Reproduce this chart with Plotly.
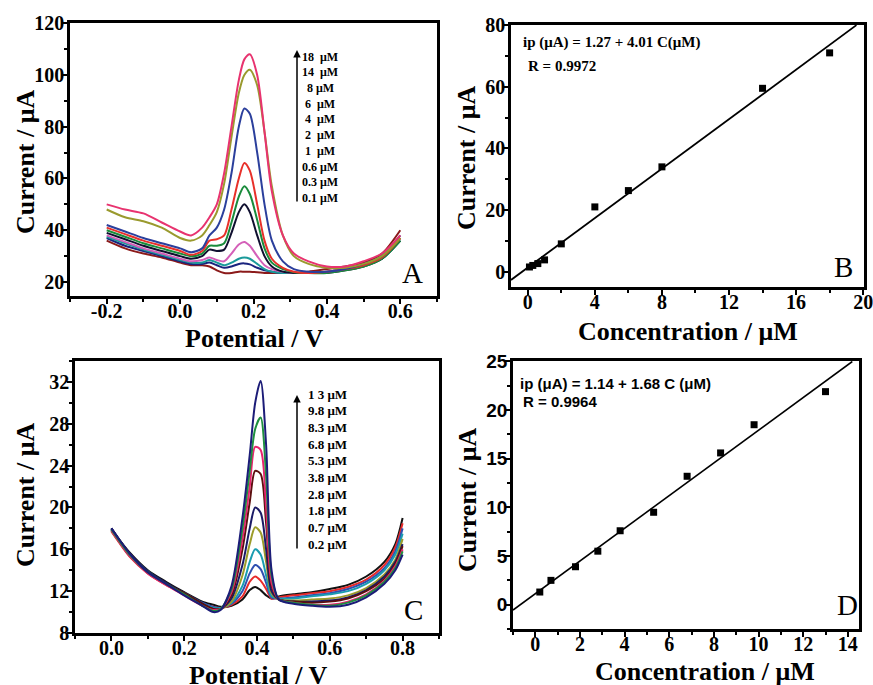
import plotly.graph_objects as go

W, H = 873, 685

# ---------------- Panel A data ----------------
xA = [-0.2, -0.15, -0.1, -0.05, 0.0, 0.03, 0.06, 0.08, 0.1, 0.12, 0.14, 0.16, 0.175,
      0.19, 0.21, 0.23, 0.25, 0.28, 0.31, 0.35, 0.4, 0.45, 0.5, 0.55, 0.6]
concA = ["0.1", "0.3", "0.6", "1", "2", "4", "6", "8", "14", "18"]
colorsA = ["#8b1a1a", "#1a237e", "#1a9a9a", "#d45fb8", "#101030",
           "#1a8c3c", "#e8302a", "#2b3f9c", "#9a9a2e", "#e8336f"]
yA = [
    [36, 33, 31, 29.5, 27.5, 26.5, 26.5, 26, 24.5, 23.5, 23.5, 24, 24, 24, 23.8, 23.5, 23.5, 23.5, 23.5, 24, 25, 26, 27.5, 31, 40],
    [37, 34, 32, 30, 28, 27, 27, 27.5, 26.5, 25.5, 26, 27, 27.2, 26.8, 25.5, 24.5, 24, 23.5, 23.5, 23.5, 24, 25, 26.5, 29, 37],
    [37.5, 35, 32.5, 30.5, 28.5, 27.5, 27.5, 28.5, 27.5, 26.5, 27.5, 29, 29.5, 29, 27, 25, 24, 23.5, 23.5, 23.5, 24, 25, 26.5, 29, 36],
    [38, 35.5, 33, 31, 29, 28, 28.5, 29.5, 28.5, 28, 31, 34.5, 35.5, 34, 30, 26.5, 25, 24, 23.5, 23.5, 24, 25, 26.5, 29.5, 37],
    [39, 36.5, 34, 32, 30, 29, 30, 32.5, 32, 32.5, 39, 47, 50, 47, 38, 30, 26, 24, 23.5, 23.5, 23.5, 24.5, 26, 29, 36],
    [40, 37.5, 35, 33, 31, 30, 31, 34, 34, 35, 43, 53, 57, 54, 44, 33, 27.5, 25, 23.8, 23.5, 23.5, 24.5, 26, 29, 36],
    [41, 38.5, 36, 34, 32, 30.5, 32, 36, 36.5, 38, 48, 60, 66, 63, 50, 36, 29, 25.5, 24, 23.5, 24, 25, 26.5, 29.5, 37],
    [42, 39.5, 37, 35, 33, 31.5, 33, 38, 41, 48, 62, 80, 87, 85, 70, 50, 36, 28, 25, 24, 24, 25, 27, 30, 38],
    [48, 45, 43.5, 41, 37, 36, 38, 42, 47, 58, 76, 93, 100, 102, 96, 78, 57, 38, 30, 27, 25.5, 25.5, 27, 30, 37],
    [50, 48, 46.5, 43, 39.5, 38, 41, 45, 50, 62, 80, 98, 106, 108, 100, 78, 55, 38, 31, 28, 26, 26, 28, 31, 38],
]
ticksA_x = [-0.2, 0.0, 0.2, 0.4, 0.6]
ticktextA_x = ["-0.2", "0.0", "0.2", "0.4", "0.6"]

# ---------------- Panel B data ----------------
concB = [0.1, 0.3, 0.6, 1, 2, 4, 6, 8, 14, 18]
ipB = [1.5, 2.0, 2.6, 3.8, 9.0, 21.0, 26.3, 34.0, 59.5, 71.0]
fitB_x = [-1.0, 19.6]
fitB_y = [-2.7, 80.0]

# ---------------- Panel C data ----------------
xC = [0.0, 0.02, 0.05, 0.1, 0.15, 0.2, 0.25, 0.28, 0.3, 0.33, 0.36, 0.38, 0.395,
      0.41, 0.425, 0.44, 0.46, 0.5, 0.55, 0.6, 0.65, 0.7, 0.75, 0.78, 0.8]
concC = ["0.2", "0.7", "1.8", "2.8", "3.8", "5.3", "6.8", "8.3", "9.8", "13"]
colorsC = ["#111111", "#e82a2a", "#2f4fb0", "#1a9cb0", "#9c9c2a",
           "#1a1a66", "#5c0f0f", "#e8246e", "#1f8f3f", "#1c1c78"]
yC = [
    [18.0, 17.0, 15.7, 14.0, 12.9, 11.9, 11.0, 10.7, 10.5, 10.6, 11.2, 12.1, 12.4, 12.1, 11.6, 11.3, 11.5, 11.7, 11.9, 12.2, 12.6, 13.4, 14.8, 16.5, 19.0],
    [17.7, 16.7, 15.3, 13.7, 12.6, 11.7, 10.8, 10.5, 10.4, 10.7, 11.5, 12.9, 13.4, 13.0, 12.2, 11.3, 11.4, 11.6, 11.8, 12.0, 12.4, 13.1, 14.5, 16.2, 18.5],
    [17.8, 16.8, 15.4, 13.8, 12.7, 11.8, 10.9, 10.5, 10.4, 10.8, 12.0, 13.7, 14.5, 14.1, 12.8, 11.4, 11.3, 11.4, 11.6, 11.8, 12.2, 12.9, 14.2, 15.8, 18.0],
    [17.9, 16.9, 15.5, 13.9, 12.7, 11.8, 10.8, 10.4, 10.4, 10.9, 12.5, 14.8, 16.0, 15.5, 13.5, 11.5, 11.3, 11.3, 11.5, 11.7, 12.0, 12.7, 14.0, 15.5, 17.5],
    [17.8, 16.8, 15.5, 13.8, 12.7, 11.7, 10.7, 10.3, 10.3, 11.0, 13.5, 16.5, 18.1, 17.6, 14.8, 11.8, 11.2, 11.1, 11.2, 11.3, 11.6, 12.3, 13.6, 15.0, 17.0],
    [18.0, 17.0, 15.6, 13.9, 12.8, 11.8, 10.8, 10.3, 10.3, 11.3, 14.5, 18.0, 20.0, 19.5, 16.0, 12.0, 11.2, 11.0, 11.0, 11.1, 11.4, 12.1, 13.4, 14.8, 16.5],
    [17.9, 16.9, 15.5, 13.8, 12.7, 11.8, 10.8, 10.3, 10.3, 11.6, 16.0, 20.5, 23.5, 23.2, 18.5, 12.5, 11.2, 11.0, 10.9, 11.0, 11.3, 12.0, 13.2, 14.6, 16.3],
    [17.8, 16.8, 15.4, 13.7, 12.6, 11.6, 10.6, 10.2, 10.3, 11.9, 17.0, 22.0, 25.8, 25.5, 20.0, 12.8, 11.2, 10.9, 10.7, 10.7, 11.0, 11.7, 13.0, 14.4, 16.0],
    [17.9, 16.9, 15.5, 13.8, 12.7, 11.7, 10.6, 10.1, 10.3, 12.2, 18.0, 23.5, 27.5, 28.6, 23.0, 13.5, 11.2, 10.9, 10.7, 10.6, 10.9, 11.6, 12.9, 14.2, 15.8],
    [18.0, 17.0, 15.6, 13.8, 12.7, 11.6, 10.6, 10.0, 10.2, 12.5, 19.0, 25.0, 30.0, 32.1, 26.0, 14.0, 11.2, 10.8, 10.6, 10.5, 10.7, 11.4, 12.7, 14.0, 15.5],
]

# ---------------- Panel D data ----------------
concD = [0.2, 0.7, 1.8, 2.8, 3.8, 5.3, 6.8, 8.3, 9.8, 13.0]
ipD = [1.3, 2.5, 3.9, 5.5, 7.6, 9.5, 13.2, 15.6, 18.5, 21.9]
fitD_x = [-1.0, 14.2]
fitD_y = [-0.55, 25.0]

labelsA = ["18  μM", "14  μM", "8 μM", "6  μM", "4  μM", "2  μM", "1  μM", "0.6 μM", "0.3 μM", "0.1 μM"]
labelsC = ["1 3 μM", "9.8 μM", "8.3 μM", "6.8 μM", "5.3 μM", "3.8 μM", "2.8 μM", "1.8 μM", "0.7 μM", "0.2 μM"]

SERIF = "Liberation Serif"
SANS = "Liberation Sans"


def px2x(p):
    return p / W


def px2y(p):
    return 1 - p / H


fig = go.Figure()

for i in range(len(concA)):
    fig.add_trace(go.Scatter(x=xA, y=yA[i], mode="lines", xaxis="x", yaxis="y",
                             line=dict(color=colorsA[i], width=2, shape="spline", smoothing=0.8),
                             showlegend=False, name=concA[i] + " μM"))

fig.add_trace(go.Scatter(x=fitB_x, y=fitB_y, mode="lines", xaxis="x2", yaxis="y2",
                         line=dict(color="black", width=1.8), showlegend=False))
fig.add_trace(go.Scatter(x=concB, y=ipB, mode="markers", xaxis="x2", yaxis="y2",
                         marker=dict(symbol="square", size=7, color="black"), showlegend=False))

for i in range(len(concC)):
    fig.add_trace(go.Scatter(x=xC, y=yC[i], mode="lines", xaxis="x3", yaxis="y3",
                             line=dict(color=colorsC[i], width=2, shape="spline", smoothing=0.8),
                             showlegend=False, name=concC[i] + " μM"))

fig.add_trace(go.Scatter(x=fitD_x, y=fitD_y, mode="lines", xaxis="x4", yaxis="y4",
                         line=dict(color="black", width=1.6), showlegend=False))
fig.add_trace(go.Scatter(x=concD, y=ipD, mode="markers", xaxis="x4", yaxis="y4",
                         marker=dict(symbol="square", size=7, color="black"), showlegend=False))

tickf = dict(family=SERIF, size=20, color="black", weight="bold")


def ax(domain, rng, dtick, tick0, mdtick, anchor, tfont=tickf, fmt=None, tvals=None, ttext=None,
       xaxis=True, overflow=None):
    d = dict(domain=domain, range=rng, dtick=dtick, tick0=tick0, showgrid=False, zeroline=False,
             showline=True, linecolor="black", linewidth=2.5, mirror=True, automargin=False,
             ticks="outside", ticklen=5, tickwidth=2, tickcolor="black", tickfont=tfont,
             ticklabelstandoff=-10 if xaxis else -6,
             minor=dict(ticks="outside", ticklen=3, tickwidth=1.5, tickcolor="black", dtick=mdtick, tick0=tick0, showgrid=False),
             anchor=anchor)
    if overflow:
        d["ticklabeloverflow"] = overflow
    if fmt:
        d["tickformat"] = fmt
    if tvals is not None:
        d["tickmode"] = "array"
        d["tickvals"] = tvals
        d["ticktext"] = ttext
    return d


fig.update_layout(
    width=W, height=H, margin=dict(l=0, r=0, t=0, b=0, pad=0, autoexpand=False),
    paper_bgcolor="white", plot_bgcolor="white",
    xaxis=ax([px2x(70), px2x(437)], [-0.3, 0.7], 0.2, -0.3, 0.1, "y", tvals=ticksA_x, ttext=ticktextA_x),
    yaxis=ax([px2y(296), px2y(23)], [14.6, 120.05], 20, 0, 10, "x", xaxis=False),
    xaxis2=ax([px2x(511), px2x(864)], [-1, 20.05], 4, 0, 2, "y2", overflow="allow"),
    yaxis2=ax([px2y(287), px2y(25)], [-5, 80.05], 20, 0, 10, "x2", xaxis=False),
    xaxis3=ax([px2x(75), px2x(439)], [-0.1, 0.9], 0.2, 0, 0.1, "y3", fmt=".1f"),
    yaxis3=ax([px2y(633), px2y(361)], [8, 34], 4, 0, 2, "x3", xaxis=False),
    xaxis4=ax([px2x(513), px2x(859)], [-1, 14.5], 2, 0, 1, "y4"),
    yaxis4=ax([px2y(629), px2y(361)], [-2.5, 25.05], 5, 0, 2.5, "x4",
              tfont=dict(family=SANS, size=19, color="black", weight="bold"), xaxis=False),
)

ann = []
titlef = dict(family=SERIF, size=26, color="black", weight="bold")
# Axis titles
for text, x, y, ang in [("Current / μA", 25, 162, -90), ("Potential / V", 254, 338, 0),
                        ("Current / μA", 467, 158, -90), ("Concentration / μM", 688, 331, 0),
                        ("Current / μA", 25, 495, -90), ("Potential / V", 258, 675, 0),
                        ("Current / μA", 467, 500, -90), ("Concentration / μM", 705, 671, 0)]:
    ann.append(dict(x=px2x(x), y=px2y(y), xref="paper", yref="paper", text=text, showarrow=False,
                    textangle=ang, font=titlef, xanchor="center", yanchor="middle"))

# Panel letters
for letter, (x, y) in zip("ABCD", [(412, 273), (843, 267), (413, 610), (847, 605)]):
    ann.append(dict(x=px2x(x), y=px2y(y), xref="paper", yref="paper", text=letter, showarrow=False,
                    font=dict(family=SERIF, size=29, color="black"), xanchor="center", yanchor="middle"))

# Concentration labels and arrows
for i, t in enumerate(labelsA):
    ann.append(dict(x=px2x(320), y=px2y(56.7 + i * 15.7), xref="paper", yref="paper", text=t, showarrow=False,
                    font=dict(family=SERIF, size=12, color="black", weight="bold"), xanchor="center", yanchor="middle"))
ann.append(dict(x=px2x(297), y=px2y(50), xref="paper", yref="paper", text="", showarrow=True,
                ax=0, ay=153, arrowhead=2, arrowsize=1, arrowwidth=1.5, arrowcolor="black"))
for i, t in enumerate(labelsC):
    ann.append(dict(x=px2x(306), y=px2y(394 + i * 16.7), xref="paper", yref="paper", text=t, showarrow=False,
                    font=dict(family=SERIF, size=13, color="black", weight="bold"), xanchor="left", yanchor="middle"))
ann.append(dict(x=px2x(297), y=px2y(395), xref="paper", yref="paper", text="", showarrow=True,
                ax=0, ay=155, arrowhead=2, arrowsize=1, arrowwidth=1.5, arrowcolor="black"))

# Equations
ann.append(dict(x=px2x(521), y=px2y(43), xref="paper", yref="paper", text="ip (μA) = 1.27 + 4.01 C(μM)",
                showarrow=False, font=dict(family=SERIF, size=15, color="black", weight="bold"),
                xanchor="left", yanchor="middle"))
ann.append(dict(x=px2x(526), y=px2y(66), xref="paper", yref="paper", text="R = 0.9972",
                showarrow=False, font=dict(family=SERIF, size=15, color="black", weight="bold"),
                xanchor="left", yanchor="middle"))
ann.append(dict(x=px2x(518), y=px2y(383), xref="paper", yref="paper", text="ip (μA) = 1.14 + 1.68 C (μM)",
                showarrow=False, font=dict(family=SANS, size=15, color="black", weight="bold"),
                xanchor="left", yanchor="middle"))
ann.append(dict(x=px2x(521), y=px2y(401), xref="paper", yref="paper", text="R = 0.9964",
                showarrow=False, font=dict(family=SANS, size=15, color="black", weight="bold"),
                xanchor="left", yanchor="middle"))

fig.update_layout(annotations=ann)
fig.write_html("out.html")
